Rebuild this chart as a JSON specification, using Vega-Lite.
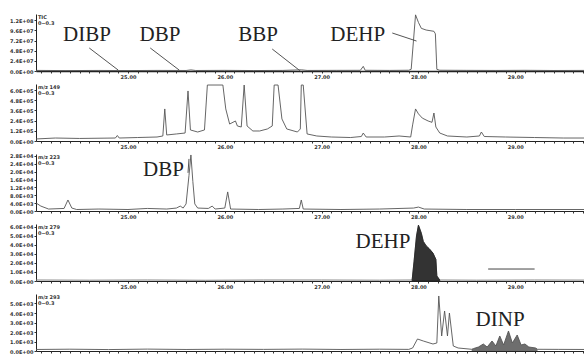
{
  "$schema": "https://vega.github.io/schema/vega-lite/v6.json",
  "autosize": {"type": "pad"},
  "padding": {"left": 2, "top": 13, "right": 0, "bottom": 0},
  "spacing": 13,
  "bounds": "flush",
  "background": "white",
  "config": {
    "view": {"stroke": null},
    "axis": {"grid": false, "title": null, "labelFontSize": 5, "labelFont": "DejaVu Sans", "labelFontWeight": "bold", "labelColor": "#333", "tickSize": 2, "tickColor": "#333", "domainColor": "#222", "labelPadding": 1, "labelOverlap": false, "tickCount": 100},
    "axisY": {"minExtent": 34, "maxExtent": 34},
    "line": {"color": "#555", "strokeWidth": 0.9, "clip": true},
    "text": {"clip": false}
  },
  "datasets": {
    "p1": [
      {"t": 24.05, "v": 1400000}, {"t": 24.35, "v": 1000000}, {"t": 24.7, "v": 1300000}, {"t": 25.0, "v": 1000000},
      {"t": 25.3, "v": 1400000}, {"t": 25.6, "v": 1200000}, {"t": 25.65, "v": 2600000}, {"t": 25.7, "v": 1200000},
      {"t": 26.0, "v": 1500000}, {"t": 26.3, "v": 1100000}, {"t": 26.6, "v": 1400000}, {"t": 26.79, "v": 2800000},
      {"t": 26.85, "v": 1300000}, {"t": 27.15, "v": 1500000}, {"t": 27.4, "v": 1600000}, {"t": 27.43, "v": 11000000},
      {"t": 27.45, "v": 1700000}, {"t": 27.7, "v": 1400000}, {"t": 27.9, "v": 1800000}, {"t": 27.925, "v": 4000000},
      {"t": 27.97, "v": 133000000}, {"t": 28.0, "v": 115000000}, {"t": 28.03, "v": 101000000}, {"t": 28.08, "v": 97000000},
      {"t": 28.16, "v": 94000000}, {"t": 28.175, "v": 88000000}, {"t": 28.19, "v": 4000000}, {"t": 28.22, "v": 1800000},
      {"t": 28.5, "v": 1500000}, {"t": 28.8, "v": 1300000}, {"t": 29.1, "v": 1600000}, {"t": 29.4, "v": 1200000},
      {"t": 29.71, "v": 1400000}
    ],
    "p2": [
      {"t": 24.05, "v": 24000}, {"t": 24.25, "v": 35000}, {"t": 24.5, "v": 30000}, {"t": 24.87, "v": 35000},
      {"t": 24.89, "v": 65000}, {"t": 24.91, "v": 35000}, {"t": 25.1, "v": 41000}, {"t": 25.3, "v": 47000},
      {"t": 25.36, "v": 59000}, {"t": 25.38, "v": 378000}, {"t": 25.4, "v": 71000}, {"t": 25.5, "v": 83000},
      {"t": 25.59, "v": 94000}, {"t": 25.62, "v": 590000}, {"t": 25.645, "v": 130000}, {"t": 25.72, "v": 106000},
      {"t": 25.79, "v": 130000}, {"t": 25.82, "v": 660000}, {"t": 25.98, "v": 660000}, {"t": 26.01, "v": 378000},
      {"t": 26.05, "v": 200000}, {"t": 26.11, "v": 236000}, {"t": 26.13, "v": 177000}, {"t": 26.17, "v": 165000},
      {"t": 26.2, "v": 660000}, {"t": 26.23, "v": 177000}, {"t": 26.29, "v": 118000}, {"t": 26.36, "v": 118000},
      {"t": 26.44, "v": 142000}, {"t": 26.49, "v": 177000}, {"t": 26.51, "v": 660000}, {"t": 26.55, "v": 660000},
      {"t": 26.59, "v": 260000}, {"t": 26.64, "v": 142000}, {"t": 26.75, "v": 106000}, {"t": 26.78, "v": 142000},
      {"t": 26.79, "v": 660000}, {"t": 26.81, "v": 660000}, {"t": 26.85, "v": 83000}, {"t": 26.95, "v": 59000},
      {"t": 27.1, "v": 47000}, {"t": 27.3, "v": 41000}, {"t": 27.41, "v": 53000}, {"t": 27.43, "v": 94000},
      {"t": 27.46, "v": 47000}, {"t": 27.65, "v": 47000}, {"t": 27.8, "v": 59000}, {"t": 27.92, "v": 47000},
      {"t": 27.94, "v": 190000}, {"t": 27.97, "v": 378000}, {"t": 28.0, "v": 320000}, {"t": 28.04, "v": 270000},
      {"t": 28.1, "v": 236000}, {"t": 28.14, "v": 220000}, {"t": 28.16, "v": 330000}, {"t": 28.18, "v": 165000},
      {"t": 28.22, "v": 94000}, {"t": 28.3, "v": 59000}, {"t": 28.5, "v": 47000}, {"t": 28.63, "v": 59000},
      {"t": 28.65, "v": 106000}, {"t": 28.68, "v": 53000}, {"t": 28.9, "v": 47000}, {"t": 29.2, "v": 41000},
      {"t": 29.5, "v": 35000}, {"t": 29.71, "v": 35000}
    ],
    "p3": [
      {"t": 24.05, "v": 4100}, {"t": 24.1, "v": 2500}, {"t": 24.18, "v": 1000}, {"t": 24.34, "v": 1300},
      {"t": 24.38, "v": 5600}, {"t": 24.42, "v": 1500}, {"t": 24.47, "v": 760}, {"t": 24.7, "v": 1000},
      {"t": 25.0, "v": 760}, {"t": 25.2, "v": 1300}, {"t": 25.4, "v": 1000}, {"t": 25.5, "v": 1500},
      {"t": 25.54, "v": 2500}, {"t": 25.57, "v": 1500}, {"t": 25.6, "v": 3600}, {"t": 25.63, "v": 18000},
      {"t": 25.65, "v": 28500}, {"t": 25.67, "v": 15000}, {"t": 25.69, "v": 3600}, {"t": 25.72, "v": 1500},
      {"t": 25.83, "v": 1300}, {"t": 25.87, "v": 2500}, {"t": 25.9, "v": 1000}, {"t": 26.0, "v": 1500},
      {"t": 26.03, "v": 9700}, {"t": 26.06, "v": 1000}, {"t": 26.35, "v": 760}, {"t": 26.6, "v": 1000},
      {"t": 26.77, "v": 1300}, {"t": 26.79, "v": 5600}, {"t": 26.81, "v": 1000}, {"t": 27.2, "v": 760},
      {"t": 27.6, "v": 1000}, {"t": 27.95, "v": 1500}, {"t": 28.0, "v": 2000}, {"t": 28.06, "v": 1000},
      {"t": 28.5, "v": 760}, {"t": 29.0, "v": 760}, {"t": 29.71, "v": 760}
    ],
    "p4": [
      {"t": 24.05, "v": 1100}, {"t": 24.6, "v": 900}, {"t": 25.2, "v": 1100}, {"t": 25.8, "v": 800},
      {"t": 26.4, "v": 1100}, {"t": 27.0, "v": 1100}, {"t": 27.6, "v": 900}, {"t": 27.935, "v": 1100},
      {"t": 27.955, "v": 22000}, {"t": 27.98, "v": 50000}, {"t": 28.0, "v": 62000}, {"t": 28.03, "v": 53000},
      {"t": 28.05, "v": 44000}, {"t": 28.08, "v": 39000}, {"t": 28.11, "v": 36000}, {"t": 28.15, "v": 31000},
      {"t": 28.18, "v": 24000}, {"t": 28.19, "v": 5600}, {"t": 28.22, "v": 1100}, {"t": 28.6, "v": 900},
      {"t": 29.2, "v": 1100}, {"t": 29.71, "v": 1000}
    ],
    "p5": [
      {"t": 24.05, "v": 160}, {"t": 24.4, "v": 190}, {"t": 24.8, "v": 150}, {"t": 25.2, "v": 200},
      {"t": 25.6, "v": 160}, {"t": 26.0, "v": 190}, {"t": 26.4, "v": 170}, {"t": 26.8, "v": 200},
      {"t": 27.2, "v": 160}, {"t": 27.6, "v": 190}, {"t": 27.9, "v": 170}, {"t": 27.94, "v": 316},
      {"t": 27.99, "v": 1264}, {"t": 28.05, "v": 1053}, {"t": 28.15, "v": 737}, {"t": 28.19, "v": 842},
      {"t": 28.21, "v": 5790}, {"t": 28.24, "v": 1580}, {"t": 28.27, "v": 4212}, {"t": 28.3, "v": 1580},
      {"t": 28.32, "v": 4000}, {"t": 28.36, "v": 526}, {"t": 28.41, "v": 316}, {"t": 28.55, "v": 180},
      {"t": 28.57, "v": 260}, {"t": 28.62, "v": 420}, {"t": 28.67, "v": 737}, {"t": 28.71, "v": 420},
      {"t": 28.76, "v": 1053}, {"t": 28.8, "v": 526}, {"t": 28.84, "v": 1580}, {"t": 28.88, "v": 632},
      {"t": 28.93, "v": 2106}, {"t": 28.97, "v": 842}, {"t": 29.02, "v": 1685}, {"t": 29.06, "v": 632},
      {"t": 29.1, "v": 737}, {"t": 29.14, "v": 420}, {"t": 29.21, "v": 316}, {"t": 29.23, "v": 180},
      {"t": 29.45, "v": 170}, {"t": 29.71, "v": 160}
    ],
    "ann": [
      {"panel": 1, "kind": "big", "t": 24.33, "v": 71000000, "label": "DIBP"},
      {"panel": 1, "kind": "big", "t": 25.12, "v": 71000000, "label": "DBP"},
      {"panel": 1, "kind": "big", "t": 26.14, "v": 71000000, "label": "BBP"},
      {"panel": 1, "kind": "big", "t": 27.09, "v": 71000000, "label": "DEHP"},
      {"panel": 1, "kind": "small", "t": 24.07, "v": 132600000, "label": "TIC"},
      {"panel": 1, "kind": "small", "t": 24.07, "v": 118400000, "label": "0~0.3"},
      {"panel": 2, "kind": "small", "t": 24.07, "v": 660000, "label": "m/z 149"},
      {"panel": 2, "kind": "small", "t": 24.07, "v": 590000, "label": "0~0.3"},
      {"panel": 3, "kind": "big", "t": 25.155, "v": 17800, "label": "DBP"},
      {"panel": 3, "kind": "small", "t": 24.07, "v": 28500, "label": "m/z 223"},
      {"panel": 3, "kind": "small", "t": 24.07, "v": 25400, "label": "0~0.3"},
      {"panel": 4, "kind": "big", "t": 27.35, "v": 36700, "label": "DEHP"},
      {"panel": 4, "kind": "small", "t": 24.07, "v": 62200, "label": "m/z 279"},
      {"panel": 4, "kind": "small", "t": 24.07, "v": 55500, "label": "0~0.3"},
      {"panel": 5, "kind": "big", "t": 28.59, "v": 2630, "label": "DINP"},
      {"panel": 5, "kind": "small", "t": 24.07, "v": 5895, "label": "m/z 293"},
      {"panel": 5, "kind": "small", "t": 24.07, "v": 5263, "label": "0~0.3"}
    ],
    "rules": [
      {"panel": 1, "t": 24.6, "v": 54500000, "t2": 24.9, "v2": 2000000},
      {"panel": 1, "t": 25.23, "v": 54500000, "t2": 25.53, "v2": 2000000},
      {"panel": 1, "t": 26.49, "v": 52000000, "t2": 26.78, "v2": 0},
      {"panel": 1, "t": 27.73, "v": 90000000, "t2": 27.98, "v2": 71000000},
      {"panel": 3, "t": 25.62, "v": 19400, "t2": 25.63, "v2": 26500},
      {"panel": 4, "t": 28.72, "v": 13300, "t2": 29.2, "v2": 13300}
    ]
  },
  "vconcat": [
    {
      "width": 548, "height": 57,
      "resolve": {"axis": {"x": "independent"}},
      "layer": [
        {"data": {"name": "p1"}, "mark": {"type": "line"},
         "encoding": {
           "x": {"field": "t", "type": "quantitative", "scale": {"domain": [24.05, 29.71], "nice": false, "zero": false}, "axis": {"values": [25, 26, 27, 28, 29], "format": ".2f", "domainWidth": 1.3, "orient": "bottom"}},
           "y": {"field": "v", "type": "quantitative", "scale": {"domain": [0, 135000000], "nice": false}, "axis": {"values": [0, 24000000, 48000000, 72000000, 96000000, 120000000], "labelExpr": "replace(format(datum.value, '.1e'), 'e+', 'E+0')"}}
         }},
        {"data": {"name": "rules"}, "transform": [{"filter": "datum.panel == 1"}], "mark": {"type": "rule", "color": "#555", "strokeWidth": 1},
         "encoding": {"x": {"field": "t", "type": "quantitative", "axis": null}, "y": {"field": "v", "type": "quantitative"}, "x2": {"field": "t2"}, "y2": {"field": "v2"}}},
        {"data": {"name": "ann"}, "transform": [{"filter": "datum.panel == 1 && datum.kind == 'big'"}], "mark": {"type": "text", "font": "Liberation Serif", "fontSize": 21, "color": "#222", "align": "left", "baseline": "alphabetic"},
         "encoding": {"x": {"field": "t", "type": "quantitative", "axis": null}, "y": {"field": "v", "type": "quantitative"}, "text": {"field": "label"}}},
        {"data": {"name": "ann"}, "transform": [{"filter": "datum.panel == 1 && datum.kind == 'small'"}], "mark": {"type": "text", "font": "DejaVu Sans", "fontSize": 5, "fontWeight": "bold", "color": "#333", "align": "left", "baseline": "top"},
         "encoding": {"x": {"field": "t", "type": "quantitative", "axis": {"orient": "bottom", "labels": false, "domain": false, "tickSize": 2, "values": [24.1,24.2,24.3,24.4,24.5,24.6,24.7,24.8,24.9,25.1,25.2,25.3,25.4,25.5,25.6,25.7,25.8,25.9,26.1,26.2,26.3,26.4,26.5,26.6,26.7,26.8,26.9,27.1,27.2,27.3,27.4,27.5,27.6,27.7,27.8,27.9,28.1,28.2,28.3,28.4,28.5,28.6,28.7,28.8,28.9,29.1,29.2,29.3,29.4,29.5,29.6,29.7]}}, "y": {"field": "v", "type": "quantitative"}, "text": {"field": "label"}}}
      ]
    },
    {
      "width": 548, "height": 57,
      "resolve": {"axis": {"x": "independent"}},
      "layer": [
        {"data": {"name": "p2"}, "mark": {"type": "line"},
         "encoding": {
           "x": {"field": "t", "type": "quantitative", "scale": {"domain": [24.05, 29.71], "nice": false, "zero": false}, "axis": {"values": [25, 26, 27, 28, 29], "format": ".2f", "orient": "bottom"}},
           "y": {"field": "v", "type": "quantitative", "scale": {"domain": [0, 672000], "nice": false}, "axis": {"values": [0, 120000, 240000, 360000, 480000, 600000], "labelExpr": "replace(format(datum.value, '.1e'), 'e+', 'E+0')"}}
         }},
        {"data": {"name": "ann"}, "transform": [{"filter": "datum.panel == 2 && datum.kind == 'small'"}], "mark": {"type": "text", "font": "DejaVu Sans", "fontSize": 5, "fontWeight": "bold", "color": "#333", "align": "left", "baseline": "top"},
         "encoding": {"x": {"field": "t", "type": "quantitative", "axis": {"orient": "bottom", "labels": false, "domain": false, "tickSize": 2, "values": [24.1,24.2,24.3,24.4,24.5,24.6,24.7,24.8,24.9,25.1,25.2,25.3,25.4,25.5,25.6,25.7,25.8,25.9,26.1,26.2,26.3,26.4,26.5,26.6,26.7,26.8,26.9,27.1,27.2,27.3,27.4,27.5,27.6,27.7,27.8,27.9,28.1,28.2,28.3,28.4,28.5,28.6,28.7,28.8,28.9,29.1,29.2,29.3,29.4,29.5,29.6,29.7]}}, "y": {"field": "v", "type": "quantitative"}, "text": {"field": "label"}}}
      ]
    },
    {
      "width": 548, "height": 57,
      "resolve": {"axis": {"x": "independent"}},
      "layer": [
        {"data": {"name": "p3"}, "mark": {"type": "line"},
         "encoding": {
           "x": {"field": "t", "type": "quantitative", "scale": {"domain": [24.05, 29.71], "nice": false, "zero": false}, "axis": {"values": [25, 26, 27, 28, 29], "format": ".2f", "orient": "bottom"}},
           "y": {"field": "v", "type": "quantitative", "scale": {"domain": [0, 29000], "nice": false}, "axis": {"values": [0, 4000, 8000, 12000, 16000, 20000, 24000, 28000], "labelExpr": "replace(format(datum.value, '.1e'), 'e+', 'E+0')"}}
         }},
        {"data": {"name": "rules"}, "transform": [{"filter": "datum.panel == 3"}], "mark": {"type": "rule", "color": "#555", "strokeWidth": 1},
         "encoding": {"x": {"field": "t", "type": "quantitative", "axis": null}, "y": {"field": "v", "type": "quantitative"}, "x2": {"field": "t2"}, "y2": {"field": "v2"}}},
        {"data": {"name": "ann"}, "transform": [{"filter": "datum.panel == 3 && datum.kind == 'big'"}], "mark": {"type": "text", "font": "Liberation Serif", "fontSize": 21, "color": "#222", "align": "left", "baseline": "alphabetic"},
         "encoding": {"x": {"field": "t", "type": "quantitative", "axis": null}, "y": {"field": "v", "type": "quantitative"}, "text": {"field": "label"}}},
        {"data": {"name": "ann"}, "transform": [{"filter": "datum.panel == 3 && datum.kind == 'small'"}], "mark": {"type": "text", "font": "DejaVu Sans", "fontSize": 5, "fontWeight": "bold", "color": "#333", "align": "left", "baseline": "top"},
         "encoding": {"x": {"field": "t", "type": "quantitative", "axis": {"orient": "bottom", "labels": false, "domain": false, "tickSize": 2, "values": [24.1,24.2,24.3,24.4,24.5,24.6,24.7,24.8,24.9,25.1,25.2,25.3,25.4,25.5,25.6,25.7,25.8,25.9,26.1,26.2,26.3,26.4,26.5,26.6,26.7,26.8,26.9,27.1,27.2,27.3,27.4,27.5,27.6,27.7,27.8,27.9,28.1,28.2,28.3,28.4,28.5,28.6,28.7,28.8,28.9,29.1,29.2,29.3,29.4,29.5,29.6,29.7]}}, "y": {"field": "v", "type": "quantitative"}, "text": {"field": "label"}}}
      ]
    },
    {
      "width": 548, "height": 57,
      "resolve": {"axis": {"x": "independent"}},
      "layer": [
        {"data": {"name": "p4"}, "mark": {"type": "line", "color": "#777"},
         "encoding": {
           "x": {"field": "t", "type": "quantitative", "scale": {"domain": [24.05, 29.71], "nice": false, "zero": false}, "axis": {"values": [25, 26, 27, 28, 29], "format": ".2f", "orient": "bottom"}},
           "y": {"field": "v", "type": "quantitative", "scale": {"domain": [0, 63300], "nice": false}, "axis": {"values": [0, 10000, 20000, 30000, 40000, 50000, 60000], "labelExpr": "replace(format(datum.value, '.1e'), 'e+', 'E+0')"}}
         }},
        {"data": {"name": "p4"}, "transform": [{"filter": "datum.t >= 27.93 && datum.t <= 28.23"}], "mark": {"type": "area", "color": "#333", "stroke": "#222", "strokeWidth": 0.8},
         "encoding": {"x": {"field": "t", "type": "quantitative", "axis": null}, "y": {"field": "v", "type": "quantitative"}}},
        {"data": {"name": "rules"}, "transform": [{"filter": "datum.panel == 4"}], "mark": {"type": "rule", "color": "#444", "strokeWidth": 1},
         "encoding": {"x": {"field": "t", "type": "quantitative", "axis": null}, "y": {"field": "v", "type": "quantitative"}, "x2": {"field": "t2"}, "y2": {"field": "v2"}}},
        {"data": {"name": "ann"}, "transform": [{"filter": "datum.panel == 4 && datum.kind == 'big'"}], "mark": {"type": "text", "font": "Liberation Serif", "fontSize": 21, "color": "#222", "align": "left", "baseline": "alphabetic"},
         "encoding": {"x": {"field": "t", "type": "quantitative", "axis": null}, "y": {"field": "v", "type": "quantitative"}, "text": {"field": "label"}}},
        {"data": {"name": "ann"}, "transform": [{"filter": "datum.panel == 4 && datum.kind == 'small'"}], "mark": {"type": "text", "font": "DejaVu Sans", "fontSize": 5, "fontWeight": "bold", "color": "#333", "align": "left", "baseline": "top"},
         "encoding": {"x": {"field": "t", "type": "quantitative", "axis": {"orient": "bottom", "labels": false, "domain": false, "tickSize": 2, "values": [24.1,24.2,24.3,24.4,24.5,24.6,24.7,24.8,24.9,25.1,25.2,25.3,25.4,25.5,25.6,25.7,25.8,25.9,26.1,26.2,26.3,26.4,26.5,26.6,26.7,26.8,26.9,27.1,27.2,27.3,27.4,27.5,27.6,27.7,27.8,27.9,28.1,28.2,28.3,28.4,28.5,28.6,28.7,28.8,28.9,29.1,29.2,29.3,29.4,29.5,29.6,29.7]}}, "y": {"field": "v", "type": "quantitative"}, "text": {"field": "label"}}}
      ]
    },
    {
      "width": 548, "height": 57,
      "resolve": {"axis": {"x": "independent"}},
      "layer": [
        {"data": {"name": "p5"}, "transform": [{"filter": "datum.t >= 28.55 && datum.t <= 29.23"}], "mark": {"type": "area", "color": "#6e6e6e"},
         "encoding": {
           "x": {"field": "t", "type": "quantitative", "scale": {"domain": [24.05, 29.71], "nice": false, "zero": false}, "axis": {"values": [25, 26, 27, 28, 29], "labels": false, "orient": "bottom"}},
           "y": {"field": "v", "type": "quantitative", "scale": {"domain": [0, 6000], "nice": false}, "axis": {"values": [0, 1000, 2000, 3000, 4000, 5000], "labelExpr": "replace(format(datum.value, '.1e'), 'e+', 'E+0')"}}
         }},
        {"data": {"name": "p5"}, "mark": {"type": "line"},
         "encoding": {"x": {"field": "t", "type": "quantitative", "axis": null}, "y": {"field": "v", "type": "quantitative"}}},
        {"data": {"name": "ann"}, "transform": [{"filter": "datum.panel == 5 && datum.kind == 'big'"}], "mark": {"type": "text", "font": "Liberation Serif", "fontSize": 21, "color": "#222", "align": "left", "baseline": "alphabetic"},
         "encoding": {"x": {"field": "t", "type": "quantitative", "axis": null}, "y": {"field": "v", "type": "quantitative"}, "text": {"field": "label"}}},
        {"data": {"name": "ann"}, "transform": [{"filter": "datum.panel == 5 && datum.kind == 'small'"}], "mark": {"type": "text", "font": "DejaVu Sans", "fontSize": 5, "fontWeight": "bold", "color": "#333", "align": "left", "baseline": "top"},
         "encoding": {"x": {"field": "t", "type": "quantitative", "axis": {"orient": "bottom", "labels": false, "domain": false, "tickSize": 2, "values": [24.1,24.2,24.3,24.4,24.5,24.6,24.7,24.8,24.9,25.1,25.2,25.3,25.4,25.5,25.6,25.7,25.8,25.9,26.1,26.2,26.3,26.4,26.5,26.6,26.7,26.8,26.9,27.1,27.2,27.3,27.4,27.5,27.6,27.7,27.8,27.9,28.1,28.2,28.3,28.4,28.5,28.6,28.7,28.8,28.9,29.1,29.2,29.3,29.4,29.5,29.6,29.7]}}, "y": {"field": "v", "type": "quantitative"}, "text": {"field": "label"}}}
      ]
    }
  ]
}
